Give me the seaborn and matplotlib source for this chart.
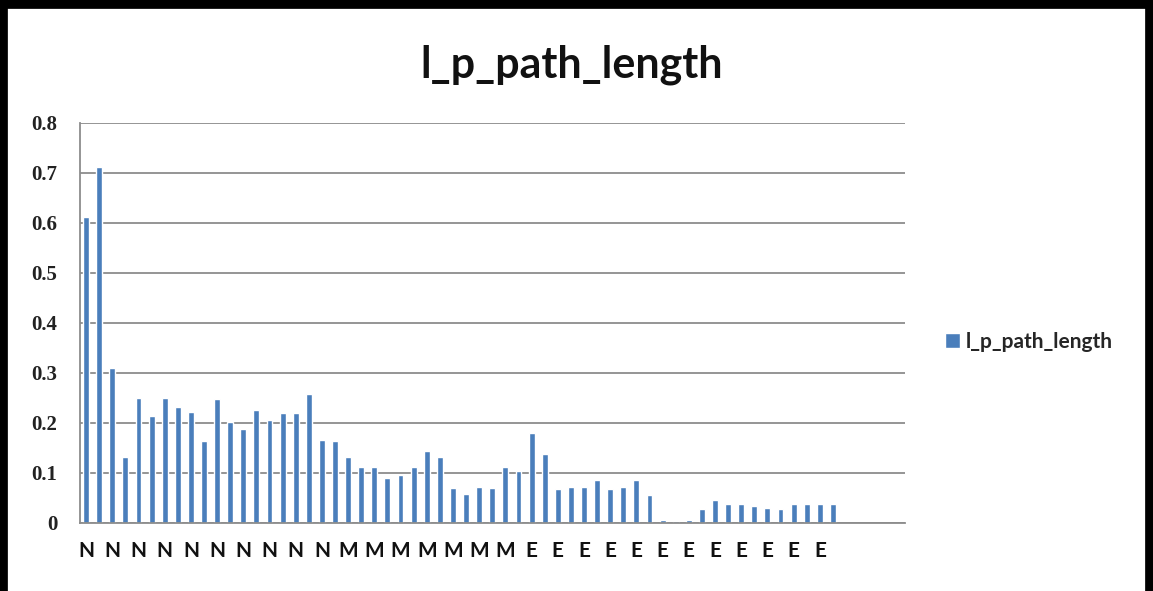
import numpy as np
import pandas as pd
import matplotlib
matplotlib.use("Agg")
import matplotlib.pyplot as plt
import seaborn as sns
from matplotlib.patches import Rectangle
from matplotlib.ticker import FixedLocator, NullFormatter

# ---- data -------------------------------------------------------------
title = "l_p_path_length"
series_name = "l_p_path_length"

values = [
    0.612, 0.712, 0.309, 0.131, 0.249, 0.214, 0.250, 0.232, 0.221, 0.163,
    0.247, 0.201, 0.187, 0.225, 0.205, 0.219, 0.219, 0.258, 0.166, 0.164,
    0.131, 0.112, 0.112, 0.089, 0.095, 0.112, 0.144, 0.131, 0.070, 0.057,
    0.072, 0.069, 0.111, 0.104, 0.180, 0.137, 0.067, 0.071, 0.072, 0.085,
    0.067, 0.071, 0.085, 0.055, 0.005, 0.004, 0.005, 0.027, 0.045, 0.037,
    0.037, 0.034, 0.030, 0.027, 0.037, 0.037, 0.037, 0.037,
    np.nan, np.nan, np.nan, np.nan, np.nan,
]
groups = ["N"] * 20 + ["M"] * 14 + ["E"] * 24 + [""] * 5
y_ticks = [0.0, 0.1, 0.2, 0.3, 0.4, 0.5, 0.6, 0.7, 0.8]
y_tick_labels = ["0", "0.1", "0.2", "0.3", "0.4", "0.5", "0.6", "0.7", "0.8"]

df = pd.DataFrame({"pos": np.arange(len(values)), "value": values, "group": groups})

# ---- styling ----------------------------------------------------------
sns.set_style("white")
plt.rcParams["font.family"] = ["Lato", "DejaVu Sans"]

bar_color = "#4a7ebb"
grid_color = "#8c8c8c"

fig = plt.figure(figsize=(11.53, 5.91), dpi=100)
W, H = 1153, 591
ax = fig.add_axes([79.5 / W, 1 - 522.7 / H, (905 - 79.5) / W, (522.7 - 122.7) / H])

sns.barplot(data=df, x="pos", y="value", order=list(df["pos"]), color=bar_color,
            width=0.45, ax=ax, label=series_name, saturation=1)
if ax.get_legend() is not None:
    ax.get_legend().remove()

ax.set_xlim(-0.5, len(values) - 0.5)
ax.set_ylim(0, 0.8)
ax.set_xlabel("")
ax.set_ylabel("")

# horizontal gridlines
ax.set_yticks(y_ticks)
ax.set_yticklabels(y_tick_labels, fontsize=15, fontweight="bold",
                   family=["Liberation Serif", "DejaVu Serif"], color="#222222")
ax.yaxis.grid(True, color=grid_color, linewidth=1.3)
ax.set_axisbelow(True)
ax.tick_params(axis="y", direction="out", length=6, width=1, color=grid_color, pad=10)

# category labels on every other category, boundary ticks on every category
shown = [i for i in range(len(values)) if i % 2 == 0]
ax.xaxis.set_major_locator(FixedLocator(shown))
ax.set_xticklabels([groups[i] for i in shown], fontsize=15, fontweight="bold", color="#111111")
ax.tick_params(axis="x", which="major", length=0, pad=13)
ax.xaxis.set_minor_locator(FixedLocator(np.arange(-0.5, len(values), 1.0)))
ax.xaxis.set_minor_formatter(NullFormatter())
ax.tick_params(axis="x", which="minor", direction="out", length=5, width=1, color=grid_color)

for side in ("top", "right"):
    ax.spines[side].set_visible(False)
for side in ("left", "bottom"):
    ax.spines[side].set_color(grid_color)
    ax.spines[side].set_linewidth(1.3)

# legend on the right
handles, labels = ax.get_legend_handles_labels()
fig.legend(handles[:1], labels[:1], loc="center left",
           bbox_to_anchor=(926 / W, 1 - 342 / H), frameon=False,
           handlelength=0.75, handleheight=0.75, handletextpad=0.25,
           prop={"size": 15, "weight": "bold", "family": ["Lato", "DejaVu Sans"]})

# chart title
fig.text(572 / W, 1 - 65 / H, title, ha="center", va="center",
         fontsize=31, fontweight="bold", color="#111111")

# outer chart frame
fig.patches.append(Rectangle((3 / W, -0.01), (W - 6) / W, 1 - 4 / H + 0.01,
                             transform=fig.transFigure, fill=False,
                             edgecolor="black", linewidth=7))

fig.savefig("out.png", dpi=100)
